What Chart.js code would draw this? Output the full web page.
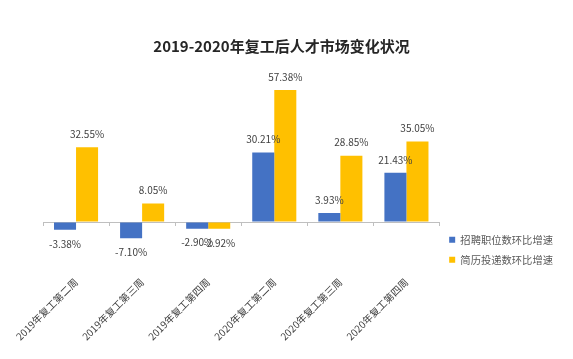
<!DOCTYPE html>
<html>
<head>
<meta charset="utf-8">
<script src="https://cdn.jsdelivr.net/npm/chart.js@4/dist/chart.umd.min.js"></script>
<style>
  html, body { margin: 0; padding: 0; background: #fff; }
  #wrap { width: 573px; height: 359px; }
</style>
</head>
<body>
<div id="wrap"><canvas id="chart"></canvas></div>
<script>
const categories = ['2019年复工第二周', '2019年复工第三周', '2019年复工第四周', '2020年复工第二周', '2020年复工第三周', '2020年复工第四周'];
const jobGrowth = [-3.38, -7.10, -2.90, 30.21, 3.93, 21.43];
const resumeGrowth = [32.55, 8.05, -2.92, 57.38, 28.85, 35.05];
const seriesNames = ['招聘职位数环比增速', '简历投递数环比增速'];

const FONT = '"Noto Sans CJK SC", "Noto Sans", sans-serif';

// value labels above / below each bar
const barLabels = {
  id: 'barLabels',
  afterDatasetsDraw(chart) {
    const ctx = chart.ctx;
    ctx.save();
    ctx.font = '10px ' + FONT;
    ctx.fillStyle = '#404040';
    ctx.textAlign = 'center';
    ctx.textBaseline = 'middle';
    chart.data.datasets.forEach((ds, i) => {
      chart.getDatasetMeta(i).data.forEach((bar, j) => {
        const v = ds.data[j];
        const y = v >= 0 ? bar.y - 13 : bar.y + 14;
        ctx.fillText(v.toFixed(2) + '%', bar.x, y);
      });
    });
    ctx.restore();
  }
};

// small tick marks on the zero line between categories
const zeroTicks = {
  id: 'zeroTicks',
  afterDraw(chart) {
    const { ctx, chartArea } = chart;
    const y0 = chart.scales.y.getPixelForValue(0);
    const step = (chartArea.right - chartArea.left) / categories.length;
    ctx.save();
    ctx.strokeStyle = '#bfbfbf';
    ctx.lineWidth = 1;
    for (let i = 0; i <= categories.length; i++) {
      const x = Math.round(chartArea.left + i * step) + 0.5;
      ctx.beginPath();
      ctx.moveTo(x, y0);
      ctx.lineTo(x, y0 + 4);
      ctx.stroke();
    }
    ctx.restore();
  }
};

new Chart(document.getElementById('chart'), {
  type: 'bar',
  data: {
    labels: categories,
    datasets: [
      { label: seriesNames[0], data: jobGrowth, backgroundColor: '#4472C4' },
      { label: seriesNames[1], data: resumeGrowth, backgroundColor: '#FFC000' }
    ]
  },
  options: {
    responsive: true,
    maintainAspectRatio: false,
    animation: false,
    layout: { padding: { left: 0, right: 10, top: 0, bottom: 0 } },
    datasets: { bar: { categoryPercentage: 0.667, barPercentage: 1.0 } },
    scales: {
      x: {
        grid: { display: false },
        border: { display: false },
        ticks: {
          minRotation: 45, maxRotation: 45, padding: 0,
          color: '#404040', font: { family: FONT, size: 10 }
        },
        afterFit(scale) { scale.height = 91; }
      },
      y: {
        min: -20, max: 60,
        ticks: { display: false, stepSize: 10 },
        border: { display: false },
        grid: {
          drawTicks: false,
          color: (c) => (c.tick && c.tick.value === 0 ? '#bfbfbf' : 'rgba(0,0,0,0)')
        },
        afterFit(scale) { scale.width = 43; }
      }
    },
    plugins: {
      title: {
        display: true,
        text: '2019-2020年复工后人才市场变化状况',
        color: '#262626',
        font: { family: FONT, size: 15, weight: 'bold' },
        padding: { top: 37, bottom: 29 }
      },
      legend: {
        position: 'right',
        align: 'center',
        title: { display: true, text: ' ', font: { size: 10.3 }, padding: { top: 0, bottom: 128 } },
        labels: {
          boxWidth: 6, boxHeight: 6, padding: 9.7,
          color: '#595959', font: { family: FONT, size: 10.3 }
        }
      },
      tooltip: { enabled: false }
    }
  },
  plugins: [barLabels, zeroTicks]
});
</script>
</body>
</html>
